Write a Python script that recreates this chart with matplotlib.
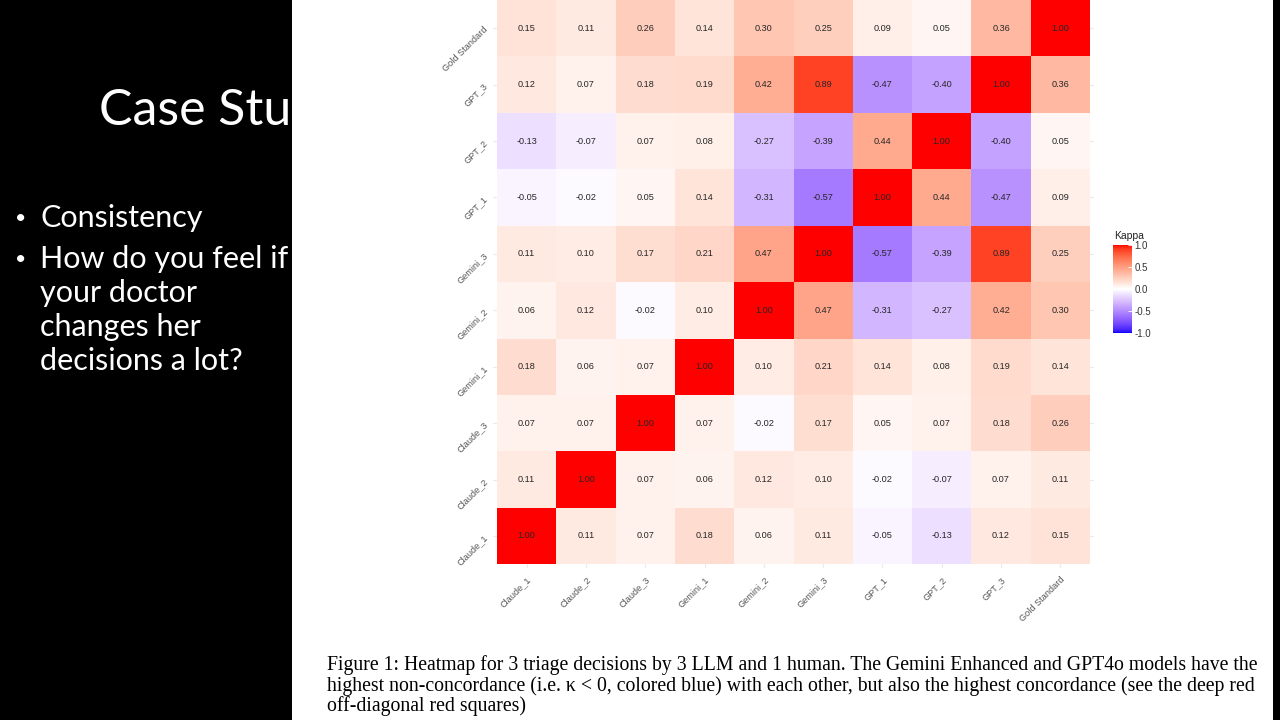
import numpy as np
import matplotlib
matplotlib.use("Agg")
import matplotlib.pyplot as plt
from matplotlib.colors import ListedColormap
from matplotlib.patches import Rectangle

# model names (rows bottom->top, columns left->right)
models = ["Claude_1", "Claude_2", "Claude_3", "Gemini_1", "Gemini_2",
          "Gemini_3", "GPT_1", "GPT_2", "GPT_3", "Gold Standard"]

# kappa matrix
kappa = np.array([
    [1.00, 0.11, 0.07, 0.18, 0.06, 0.11, -0.05, -0.13, 0.12, 0.15],
    [0.11, 1.00, 0.07, 0.06, 0.12, 0.10, -0.02, -0.07, 0.07, 0.11],
    [0.07, 0.07, 1.00, 0.07, -0.02, 0.17, 0.05, 0.07, 0.18, 0.26],
    [0.18, 0.06, 0.07, 1.00, 0.10, 0.21, 0.14, 0.08, 0.19, 0.14],
    [0.06, 0.12, -0.02, 0.10, 1.00, 0.47, -0.31, -0.27, 0.42, 0.30],
    [0.11, 0.10, 0.17, 0.21, 0.47, 1.00, -0.57, -0.39, 0.89, 0.25],
    [-0.05, -0.02, 0.05, 0.14, -0.31, -0.57, 1.00, 0.44, -0.47, 0.09],
    [-0.13, -0.07, 0.07, 0.08, -0.27, -0.39, 0.44, 1.00, -0.40, 0.05],
    [0.12, 0.07, 0.18, 0.19, 0.42, 0.89, -0.47, -0.40, 1.00, 0.36],
    [0.15, 0.11, 0.26, 0.14, 0.30, 0.25, 0.09, 0.05, 0.36, 1.00],
])

bar_ticks = [-1.0, -0.5, 0.0, 0.5, 1.0]

caption_lines = [
    "Figure 1: Heatmap for 3 triage decisions by 3 LLM and 1 human. The Gemini Enhanced and GPT4o models have the",
    "highest non-concordance (i.e. \u03ba < 0, colored blue) with each other, but also the highest concordance (see the deep red",
    "off-diagonal red squares)",
]
bullet_lines = [("Consistency", True), ("How do you feel if", True), ("your doctor", False),
                ("changes her", False), ("decisions a lot?", False)]


# blue-white-red gradient interpolated in Lab, like ggplot's scale_fill_gradient2
def srgb_to_lab(rgb):
    rgb = np.asarray(rgb, float)
    lin = np.where(rgb <= 0.04045, rgb / 12.92, ((rgb + 0.055) / 1.055) ** 2.4)
    M = np.array([[0.4124, 0.3576, 0.1805], [0.2126, 0.7152, 0.0722], [0.0193, 0.1192, 0.9505]])
    xyz = lin @ M.T / np.array([0.95047, 1.0, 1.08883])
    f = np.where(xyz > 0.008856, np.cbrt(xyz), 7.787 * xyz + 16 / 116)
    return np.stack([116 * f[..., 1] - 16, 500 * (f[..., 0] - f[..., 1]), 200 * (f[..., 1] - f[..., 2])], -1)


def lab_to_srgb(lab):
    L, a, b = lab[..., 0], lab[..., 1], lab[..., 2]
    fy = (L + 16) / 116
    fx = fy + a / 500
    fz = fy - b / 200
    f = np.stack([fx, fy, fz], -1)
    xyz = np.where(f ** 3 > 0.008856, f ** 3, (f - 16 / 116) / 7.787) * np.array([0.95047, 1.0, 1.08883])
    Minv = np.array([[3.2406, -1.5372, -0.4986], [-0.9689, 1.8758, 0.0415], [0.0557, -0.2040, 1.0570]])
    lin = np.clip(xyz @ Minv.T, 0, 1)
    rgb = np.where(lin <= 0.0031308, 12.92 * lin, 1.055 * lin ** (1 / 2.4) - 0.055)
    return np.clip(rgb, 0, 1)


lab_lo = srgb_to_lab([0, 0, 1])
lab_mid = srgb_to_lab([1, 1, 1])
lab_hi = srgb_to_lab([1, 0, 0])
t = np.linspace(0, 1, 128)[:, None]
half1 = lab_lo + (lab_mid - lab_lo) * t
half2 = lab_mid + (lab_hi - lab_mid) * t
cmap = ListedColormap(lab_to_srgb(np.vstack([half1, half2[1:]])))

W, H = 1280, 720
fig = plt.figure(figsize=(12.8, 7.2), dpi=100)
fig.patch.set_facecolor("black")

# slide text behind the pasted figure
fig.text(99 / W, 1 - 125 / H, "Case Study", color="white", fontsize=36,
         family="Lato", fontweight="normal", zorder=-3)
y0 = 227
for k, (line, has_bullet) in enumerate(bullet_lines):
    y = y0 + (0 if k == 0 else 41 + 34 * (k - 1))
    if has_bullet:
        fig.text(15 / W, 1 - (y - 3) / H, "\u2022", color="white", fontsize=14, family="Lato", zorder=-3)
    fig.text(40 / W, 1 - y / H, line, color="white", fontsize=22, family="Lato", zorder=-3)

# white pasted figure panel
fig.patches.append(Rectangle((292 / W, 0), (1273 - 292) / W, 1, transform=fig.transFigure,
                             facecolor="white", edgecolor="none", zorder=-2))

# heatmap
pad = 4
ax = fig.add_axes([(497 - pad) / W, 1 - (564 + pad) / H, (1090 - 497 + 2 * pad) / W, (564 + pad) / H])
ax.set_facecolor("white")
n = len(models)
pu = pad / 59.3
mesh = ax.pcolormesh(np.arange(n + 1) - 0.5, np.arange(n + 1) - 0.5, kappa,
                     cmap=cmap, vmin=-1, vmax=1, zorder=2)
for i in range(n):
    for j in range(n):
        ax.text(j, i, f"{kappa[i, j]:.2f}", ha="center", va="center",
                fontsize=6.6, color="#262626", family="Liberation Sans", zorder=3)
ax.set_xlim(-0.5 - pu, n - 0.5 + pu)
ax.set_ylim(-0.5 - pu, n - 0.5)
ax.set_xticks(range(n))
ax.set_yticks(range(n))
ax.set_xticklabels(models, rotation=45, ha="right", va="top", rotation_mode="anchor",
                   fontsize=6.6, color="#555555", family="Liberation Sans")
ax.set_yticklabels(models, rotation=45, ha="right", va="center", rotation_mode="anchor",
                   fontsize=6.6, color="#555555", family="Liberation Sans")
ax.tick_params(length=0, pad=5)
ax.grid(True, color="#ebebeb", lw=0.8, zorder=1)
ax.set_axisbelow(True)
for s in ax.spines.values():
    s.set_visible(False)

# colorbar
cax = fig.add_axes([1113 / W, 1 - 333 / H, 19 / W, 88 / H])
cb = fig.colorbar(mesh, cax=cax, ticks=bar_ticks)
cb.outline.set_visible(False)
cb.ax.set_yticklabels([f"{v:.1f}" for v in bar_ticks], fontsize=7, color="#333333", family="Liberation Sans")
cb.ax.tick_params(length=3, width=0.6, color="white", direction="in", pad=2)
fig.text(1114 / W, 1 - 239 / H, "Kappa", fontsize=7.5, color="#222222", family="Liberation Sans")

# caption
for k, line in enumerate(caption_lines):
    fig.text(327 / W, 1 - (670 + 20.5 * k) / H, line, fontsize=14.2, color="black",
             family="Liberation Serif", va="baseline")

fig.savefig("out.png", dpi=100, facecolor=fig.get_facecolor())
